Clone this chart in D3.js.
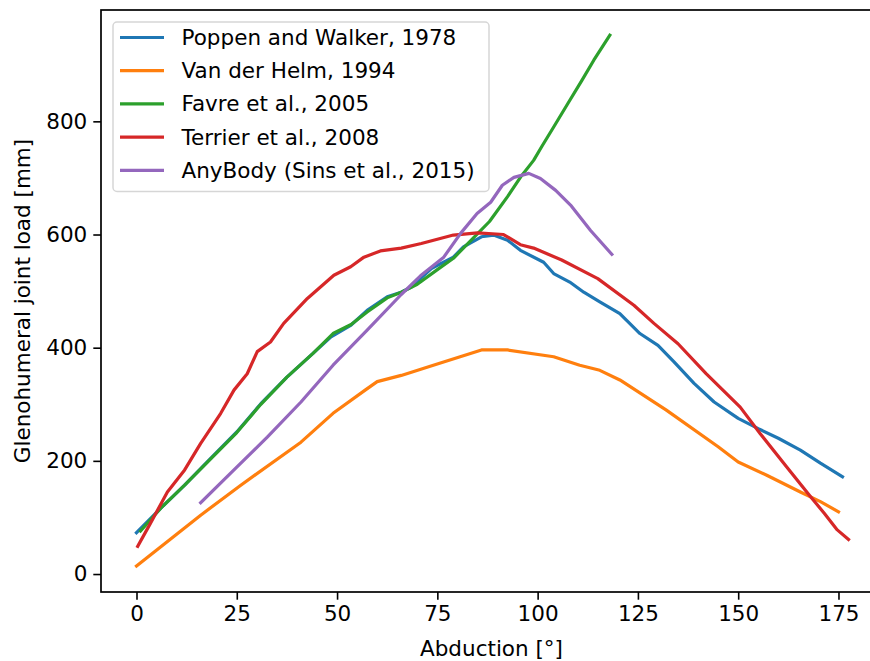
<!DOCTYPE html>
<html>
  <head>
    <meta charset="UTF-8" />
    <script src="https://d3js.org/d3.v7.min.js"></script>
    <title>Glenohumeral joint load</title>
    <style>
      body { margin: 0; background: #fff; }
      text { font-family: "DejaVu Sans", sans-serif; }
    </style>
  </head>
  <body>
    <div id="chart"></div>

    <script>
      // values
      var seriesNames = ["Poppen and Walker, 1978", "Van der Helm, 1994", "Favre et al., 2005",
        "Terrier et al., 2008", "AnyBody (Sins et al., 2015)"];
      var seriesColors = ["#1f77b4", "#ff7f0e", "#2ca02c", "#d62728", "#9467bd"];

      var poppenAngle = [0, 6, 12, 18, 25, 31, 37.5, 44, 48.5, 53.5, 57.5, 62.5, 66, 68.5, 73.5, 79, 81.5, 86,
        89, 92.5, 95.7, 101.5, 104, 108, 111.5, 115.5, 120.5, 125.5, 130, 134, 139, 144, 150, 155, 160, 165.5,
        170.5, 176];
      var poppenLoad = [73, 116, 157, 201, 251, 301, 348, 390, 419, 440, 466, 490, 498, 507, 540, 560, 578, 596,
        599, 590, 572, 551, 531, 516, 498, 481, 460, 425, 404, 375, 337, 304, 275, 257, 240, 219,
        196, 172];

      var helmAngle = [0, 16, 26, 41, 49, 57, 60, 66, 74, 86, 92.5, 104, 110.5, 115.5, 120.5, 132, 145, 150,
        157, 165.5, 170.5, 175];
      var helmLoad = [14, 104, 157, 233, 284, 325, 340, 351, 369, 396, 396, 384, 369, 360, 343, 290, 225, 198,
        175, 145, 128, 110];

      var favreAngle = [1, 6, 12, 18, 25, 31, 37.5, 44, 49, 53.5, 57.5, 62.5, 66, 70, 75, 79, 84, 88, 92.5, 96,
        99, 101, 104, 107.5, 111, 114, 118];
      var favreLoad = [76, 116, 157, 200, 250, 300, 348, 390, 425, 441, 463, 488, 498, 512, 538, 558, 594, 623,
        667, 704, 731, 755, 790, 831, 872, 908, 952];

      var terrierAngle = [0.3, 3.5, 7.7, 12, 16, 21, 24.3, 27.6, 30.1, 33.4, 36.7, 42.6, 49.2, 53.4, 56.7, 60.8,
        66, 71, 79, 85, 91.5, 95.7, 99, 106, 115, 124, 129, 135, 142, 150.5, 155.5, 162, 168, 171.5, 174.7, 177.5];
      var terrierLoad = [49, 90, 145, 184, 231, 284, 325, 354, 393, 410, 443, 487, 528, 543, 560, 571,
        576, 584, 599, 603, 600, 582, 576, 555, 522, 475, 443, 407, 354, 295, 248, 190, 137, 107, 78, 61];

      var anybodyAngle = [16, 24.3, 32.6, 41, 49, 57.5, 66, 70.8, 76.6, 80.8, 84.9, 88.3, 91.2, 94.1, 97.8,
        100.7, 104.5, 108.2, 113.2, 118.5];
      var anybodyLoad = [126, 184, 242, 304, 369, 431, 494, 527, 560, 602, 637, 657, 687, 701, 708,
        699, 678, 652, 607, 565];

      var xTicks = [0, 25, 50, 75, 100, 125, 150, 175];
      var yTicks = [0, 200, 400, 600, 800];

      var allAngles = [poppenAngle, helmAngle, favreAngle, terrierAngle, anybodyAngle];
      var allLoads = [poppenLoad, helmLoad, favreLoad, terrierLoad, anybodyLoad];

      var series = seriesNames.map(function(name, i) {
        return {
          name: name,
          color: seriesColors[i],
          values: allAngles[i].map(function(a, j) {
            return { angle: a, load: allLoads[i][j] };
          })
        };
      });

      // plot box (right edge runs past the window, as in the cropped figure)
      var box = { left: 101, right: 882, top: 10, bottom: 592 };
      var fontSize = 21.5;

      var svg = d3.select("#chart")
        .append("svg")
        .attr("width", 870)
        .attr("height", 661);

      var x = d3.scaleLinear().domain([-8.85, 185.85]).range([box.left, box.right]);
      var y = d3.scaleLinear().domain([-31.75, 996.75]).range([box.bottom, box.top]);

      // x axis
      var xAxis = svg.append("g")
        .attr("transform", "translate(0," + box.bottom + ")")
        .call(d3.axisBottom(x).tickValues(xTicks).tickSize(7.7).tickPadding(6).tickSizeOuter(0));

      // y axis
      var yAxis = svg.append("g")
        .attr("transform", "translate(" + box.left + ",0)")
        .call(d3.axisLeft(y).tickValues(yTicks).tickSize(7.7).tickPadding(6).tickSizeOuter(0));

      [xAxis, yAxis].forEach(function(ax) {
        ax.select(".domain").remove();
        ax.selectAll(".tick line").attr("stroke", "#000").attr("stroke-width", 1.6);
        ax.selectAll(".tick text")
          .attr("fill", "#000")
          .style("font-size", fontSize + "px")
          .style("font-family", "DejaVu Sans");
      });

      // lines
      var line = d3.line()
        .x(function(d) { return x(d.angle); })
        .y(function(d) { return y(d.load); });

      svg.append("g")
        .selectAll("path")
        .data(series)
        .enter()
        .append("path")
        .attr("d", function(d) { return line(d.values); })
        .attr("fill", "none")
        .attr("stroke", function(d) { return d.color; })
        .attr("stroke-width", 3.2)
        .attr("stroke-linejoin", "round")
        .attr("stroke-linecap", "square");

      // frame
      svg.append("rect")
        .attr("x", box.left)
        .attr("y", box.top)
        .attr("width", box.right - box.left)
        .attr("height", box.bottom - box.top)
        .attr("fill", "none")
        .attr("stroke", "#000")
        .attr("stroke-width", 1.7);

      // axis labels
      svg.append("text")
        .attr("x", (box.left + box.right) / 2)
        .attr("y", 656)
        .attr("text-anchor", "middle")
        .style("font-size", fontSize + "px")
        .text("Abduction [°]");

      svg.append("text")
        .attr("text-anchor", "middle")
        .attr("transform", "translate(30," + (box.top + box.bottom) / 2 + ")rotate(-90)")
        .style("font-size", fontSize + "px")
        .text("Glenohumeral joint load [mm]");

      // legend
      var legend = svg.append("g");
      legend.append("rect")
        .attr("x", 113)
        .attr("y", 22)
        .attr("width", 376)
        .attr("height", 169.5)
        .attr("rx", 4)
        .attr("fill", "#fff")
        .attr("fill-opacity", 0.8)
        .attr("stroke", "#d6d6d6")
        .attr("stroke-width", 1.5);

      var rows = legend.selectAll(".row")
        .data(series)
        .enter()
        .append("g")
        .attr("transform", function(d, i) { return "translate(0," + (37.5 + i * 33.2) + ")"; });

      rows.append("line")
        .attr("x1", 120)
        .attr("x2", 164)
        .attr("stroke", function(d) { return d.color; })
        .attr("stroke-width", 3.2);

      rows.append("text")
        .attr("x", 181.5)
        .attr("dy", "0.35em")
        .attr("fill", "#000")
        .style("font-size", fontSize + "px")
        .text(function(d) { return d.name; });
    </script>
  </body>
</html>
